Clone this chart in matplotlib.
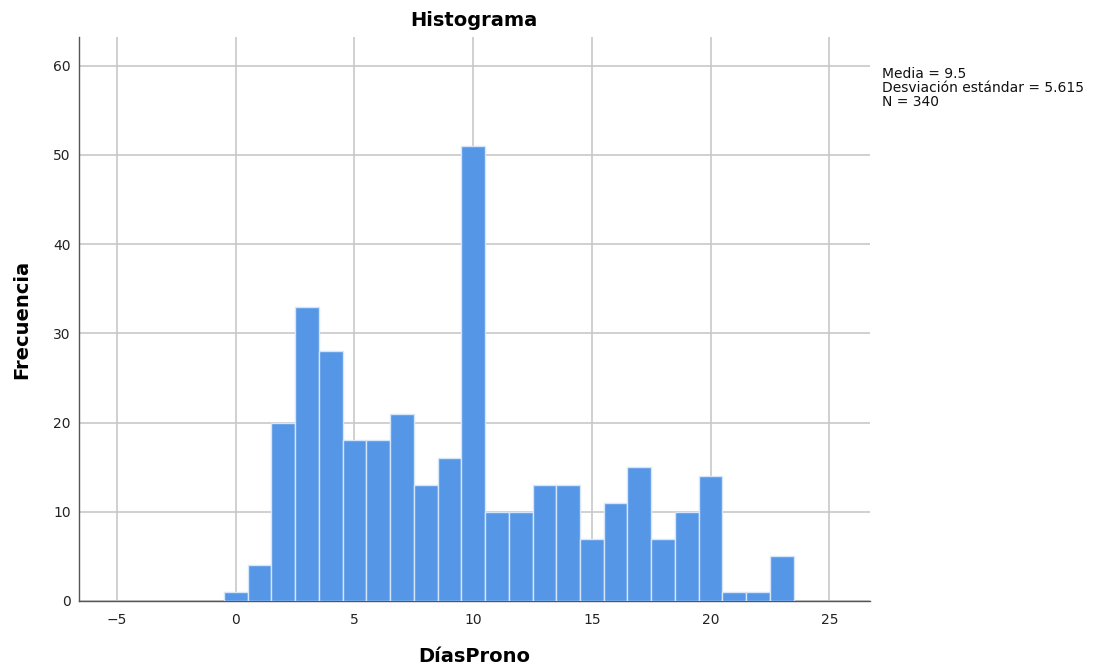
import matplotlib
matplotlib.use("Agg")
import matplotlib.pyplot as plt
import numpy as np

bin_centers = list(range(0, 24))
counts = [1, 4, 20, 33, 28, 18, 18, 21, 13, 16, 51, 10, 10, 13, 13, 7, 11, 15, 7, 10, 14, 1, 1, 5]
xticks = [-5, 0, 5, 10, 15, 20, 25]
yticks = [0, 10, 20, 30, 40, 50, 60]
stats_lines = ["Media = 9.5", "Desviación estándar = 5.615", "N = 340"]

plt.rcParams['font.family'] = ['DejaVu Sans']

fig = plt.figure(figsize=(10.98, 6.66), dpi=100)
ax = fig.add_axes([0.072, 0.0976, 0.72, 0.8468])

ax.bar(bin_centers, counts, width=1.0, color='#5596E6', edgecolor='#D6E6FA', linewidth=1.0, zorder=3)

ax.set_xlim(-6.6, 26.7)
ax.set_ylim(0, 63.2)
ax.set_xticks(xticks)
ax.set_xticklabels(["\u2212" + str(abs(t)) if t < 0 else str(t) for t in xticks])
ax.set_yticks(yticks)
ax.grid(True, color='#C8C8C8', linewidth=1.2, zorder=0)
ax.set_axisbelow(True)
for s in ['top', 'right']:
    ax.spines[s].set_visible(False)
for s in ['left', 'bottom']:
    ax.spines[s].set_color('#555555')
    ax.spines[s].set_linewidth(1.0)
ax.tick_params(axis='x', length=0, pad=9, labelsize=10, labelcolor='#222222')
ax.tick_params(axis='y', length=0, pad=6, labelsize=10, labelcolor='#222222')

ax.set_title("Histograma", fontsize=14, fontweight='bold', pad=8)
ax.set_xlabel("DíasProno", fontsize=14, fontweight='bold', labelpad=14)
ax.set_ylabel("Frecuencia", fontsize=14, fontweight='bold', labelpad=16)

fig.text(0.803, 0.899, "\n".join(stats_lines), fontsize=10, va='top', ha='left', linespacing=1.0, color='#111111')

fig.savefig("out.png", dpi=100)
